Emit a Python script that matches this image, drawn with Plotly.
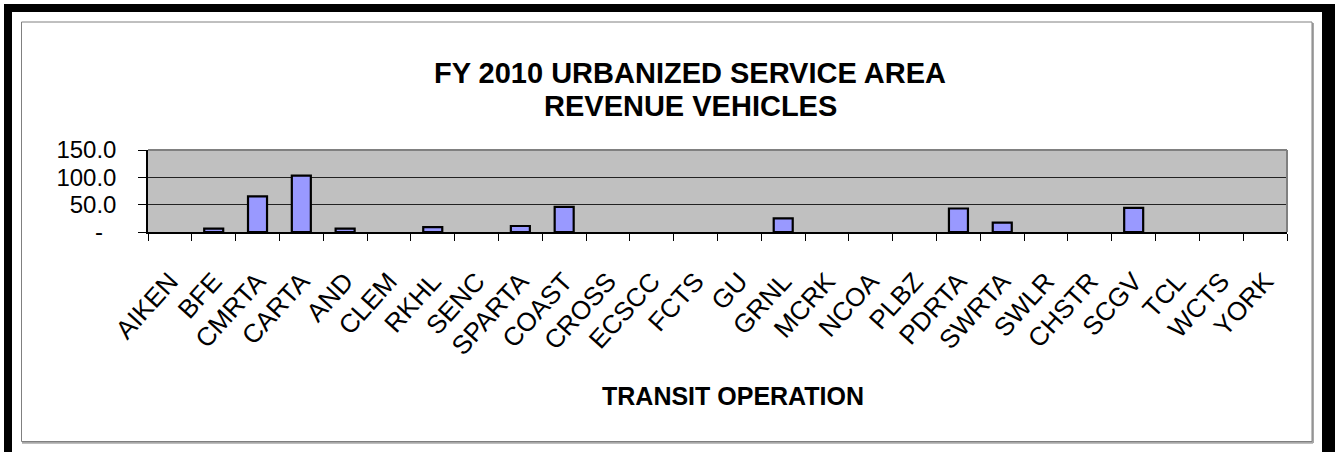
import plotly.graph_objects as go

categories = ["AIKEN", "BFE", "CMRTA", "CARTA", "AND", "CLEM", "RKHL", "SENC", "SPARTA",
              "COAST", "CROSS", "ECSCC", "FCTS", "GU", "GRNL", "MCRK", "NCOA", "PLBZ",
              "PDRTA", "SWRTA", "SWLR", "CHSTR", "SCGV", "TCL", "WCTS", "YORK"]
vehicles = [0, 6, 65, 103, 6, 0, 9, 0, 11, 46, 0, 0, 0, 0, 25, 0, 0, 0,
            43, 17, 0, 0, 44, 0, 0, 0]
y_tickvals = [0, 50, 100, 150]
y_ticktext = ["-\u00a0\u00a0", "50.0", "100.0", "150.0"]

W, H = 1335, 452
L, R, T, B = 148, 1287, 150, 232
FONT = "Liberation Sans, Arial, sans-serif"


def px_x(x):
    return (x - L) / (R - L)


def px_y(y):
    return (B - y) / (B - T)


fig = go.Figure()
fig.add_trace(go.Bar(
    x=categories, y=vehicles,
    marker=dict(color="#9999FF",
                line=dict(color="#000000", width=[2.2 if v else 0 for v in vehicles])),
    hoverinfo="x+y",
))

shapes = []
# outer black frame (top, left, right)
for x0, y0, x1, y1 in [(4, 4, W + 5, 12), (4, 4, 12, H + 5), (1322, 4, W + 5, H + 5)]:
    shapes.append(dict(type="rect", xref="paper", yref="paper",
                       x0=px_x(x0), x1=px_x(x1), y0=px_y(y0), y1=px_y(y1),
                       fillcolor="#000000", line=dict(width=0), layer="below"))
# inner chart-area box with slight shadow
shapes.append(dict(type="line", xref="paper", yref="paper",
                   x0=px_x(22), x1=px_x(1313), y0=px_y(442.5), y1=px_y(442.5),
                   line=dict(color="#A8A8A8", width=2.5), layer="below"))
shapes.append(dict(type="line", xref="paper", yref="paper",
                   x0=px_x(1313), x1=px_x(1313), y0=px_y(23), y1=px_y(443),
                   line=dict(color="#A8A8A8", width=2), layer="below"))
shapes.append(dict(type="rect", xref="paper", yref="paper",
                   x0=px_x(21.5), x1=px_x(1312), y0=px_y(22), y1=px_y(441.5),
                   line=dict(color="#808080", width=1), layer="below"))
# plot area top/right border
shapes.append(dict(type="line", xref="paper", yref="paper",
                   x0=0, x1=1, y0=1, y1=1, line=dict(color="#808080", width=2)))
shapes.append(dict(type="line", xref="paper", yref="paper",
                   x0=1, x1=1, y0=0, y1=1, line=dict(color="#808080", width=2)))

annotations = [
    dict(text="<b>FY 2010 URBANIZED SERVICE AREA</b>", xref="paper", yref="paper",
         x=px_x(690), y=px_y(73), xanchor="center", yanchor="middle", showarrow=False,
         font=dict(family=FONT, size=29, color="#000000")),
    dict(text="<b>REVENUE VEHICLES</b>", xref="paper", yref="paper",
         x=px_x(690), y=px_y(106), xanchor="center", yanchor="middle", showarrow=False,
         font=dict(family=FONT, size=29, color="#000000")),
    dict(text="<b>TRANSIT OPERATION</b>", xref="paper", yref="paper",
         x=px_x(733), y=px_y(396), xanchor="center", yanchor="middle", showarrow=False,
         font=dict(family=FONT, size=25, color="#000000")),
]

fig.update_layout(
    width=W, height=H,
    margin=dict(l=L, r=W - R, t=T, b=H - B, pad=0),
    paper_bgcolor="#FFFFFF",
    plot_bgcolor="#C0C0C0",
    bargap=0.566,
    showlegend=False,
    shapes=shapes,
    annotations=annotations,
    font=dict(family=FONT, color="#000000"),
)
fig.update_xaxes(
    type="category", tickangle=-48, tickson="boundaries",
    ticks="outside", ticklen=7, tickcolor="#000000", tickwidth=1,
    showline=True, linecolor="#000000", linewidth=1.5,
    showgrid=False, tickfont=dict(family=FONT, size=26, color="#000000"),
    ticklabelstandoff=22,
)
fig.update_yaxes(
    range=[0, 150], tickvals=y_tickvals, ticktext=y_ticktext,
    ticks="outside", ticklen=8, tickcolor="#000000", tickwidth=1,
    showline=True, linecolor="#000000", linewidth=1.5,
    showgrid=True, gridcolor="#222222", gridwidth=1,
    zeroline=False,
    tickfont=dict(family=FONT, size=24, color="#000000"),
    ticklabelstandoff=17,
)

fig.write_html("out.html", config={"displayModeBar": False},
               post_script="document.body.style.margin='0';document.body.style.overflow='hidden';")
